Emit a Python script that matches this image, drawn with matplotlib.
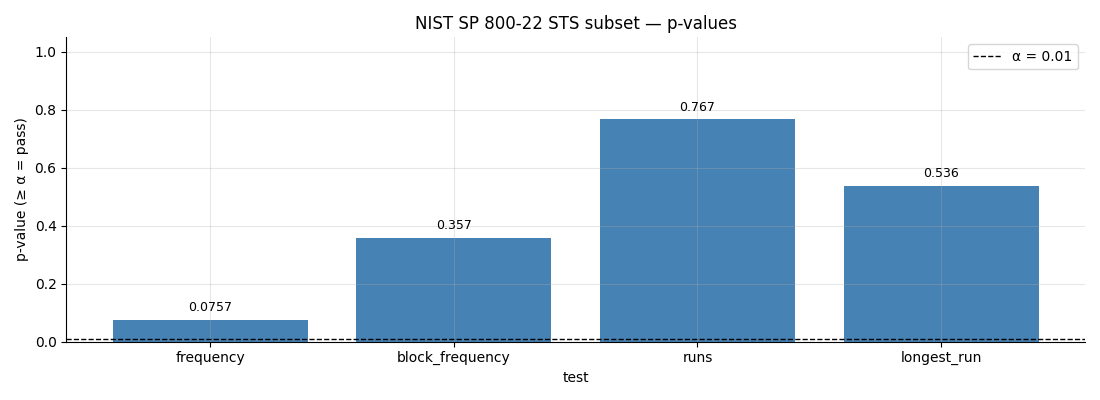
import matplotlib
matplotlib.use("Agg")
import matplotlib.pyplot as plt

tests = ["frequency", "block_frequency", "runs", "longest_run"]
p_values = [0.0757, 0.357, 0.767, 0.536]
value_labels = ["0.0757", "0.357", "0.767", "0.536"]
alpha = 0.01

fig, ax = plt.subplots(figsize=(11, 4), dpi=100)
bars = ax.bar(tests, p_values, color="steelblue", width=0.8)
ax.axhline(alpha, color="k", ls="--", lw=1, label=f"α = {alpha}")
for b, lab in zip(bars, value_labels):
    ax.text(b.get_x() + b.get_width() / 2, b.get_height() + 0.02, lab,
            ha="center", va="bottom", fontsize=9)
ax.set_ylim(0, 1.05)
ax.set_xlabel("test")
ax.set_ylabel("p-value (≥ α = pass)")
ax.set_title("NIST SP 800-22 STS subset — p-values")
ax.grid(True, alpha=0.3)
ax.spines["top"].set_visible(False)
ax.spines["right"].set_visible(False)
ax.legend(loc="upper right")
plt.tight_layout()
plt.savefig("out.png")
